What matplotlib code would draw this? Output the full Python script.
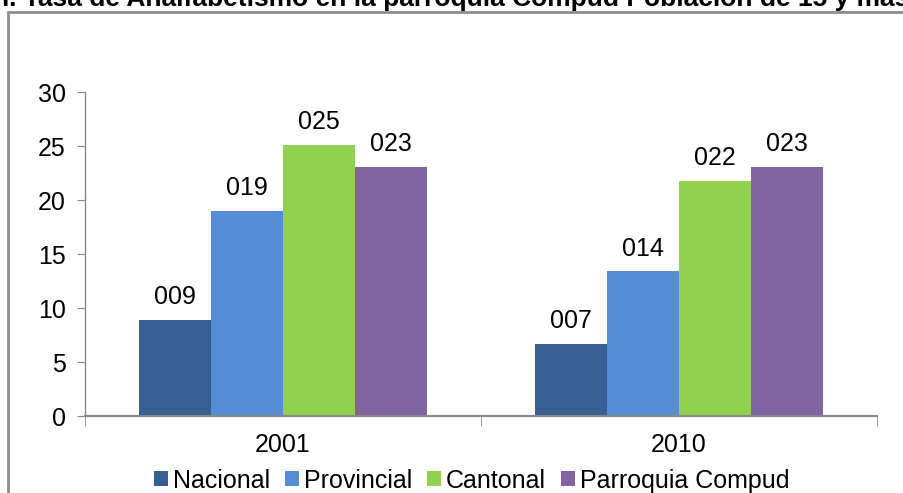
import matplotlib.pyplot as plt
import numpy as np
from matplotlib.patches import Rectangle

plt.rcParams['font.family'] = ['Liberation Sans', 'DejaVu Sans']

years = ["2001", "2010"]
series = ["Nacional", "Provincial", "Cantonal", "Parroquia Compud"]
values = [
    [8.9, 6.7],    # Nacional
    [19.0, 13.4],  # Provincial
    [25.1, 21.8],  # Cantonal
    [23.05, 23.05],  # Parroquia Compud
]
labels = [
    ["009", "007"],
    ["019", "014"],
    ["025", "022"],
    ["023", "023"],
]
colors = ["#375F92", "#558ED5", "#92D050", "#8064A2"]

fig = plt.figure(figsize=(9.04, 4.93), dpi=100)
ax = fig.add_axes([0.094, 0.156, 0.876, 0.657])

x = np.arange(len(years))
w = 0.182
for i, name in enumerate(series):
    pos = x + (i - 1.5) * w
    ax.bar(pos, values[i], width=w, color=colors[i], label=name)
    for p, v, t in zip(pos, values[i], labels[i]):
        ax.text(p, v + 1.0, t, ha='center', va='bottom', fontsize=18)

ax.set_xlim(-0.5, 1.5)
ax.set_ylim(0, 30)
ax.set_yticks(range(0, 31, 5))
ax.set_xticks([0, 1])
ax.set_xticklabels(years)
ax.set_xticks([-0.5, 0.5, 1.5], minor=True)
ax.tick_params(axis='x', which='major', length=0, labelsize=18, pad=12)
ax.tick_params(axis='x', which='minor', length=7, color='#888888', direction='out')
ax.tick_params(axis='y', labelsize=18, length=6, color='#888888', pad=8)
for s in ['top', 'right']:
    ax.spines[s].set_visible(False)
ax.spines['left'].set_color('#888888')
ax.spines['bottom'].set_color('#888888')
ax.spines['left'].set_linewidth(1)
ax.spines['bottom'].set_linewidth(1.5)

fig.legend(loc='lower center', bbox_to_anchor=(0.522, -0.045), ncol=4, frameon=False,
           fontsize=18, handlelength=0.55, handleheight=0.55, handletextpad=0.2,
           columnspacing=0.6)

fig.patches.append(Rectangle((0.009, -0.1), 1.2, 1.075, transform=fig.transFigure,
                             fill=False, edgecolor='#8c8c8c', linewidth=2))
fig.text(-0.008, 1.003, "n. Tasa de Analfabetismo en la parroquia Compud Población de 15 y más",
         fontsize=19, fontweight='bold', ha='left', va='center')

fig.savefig("out.png")
plt.close(fig)
